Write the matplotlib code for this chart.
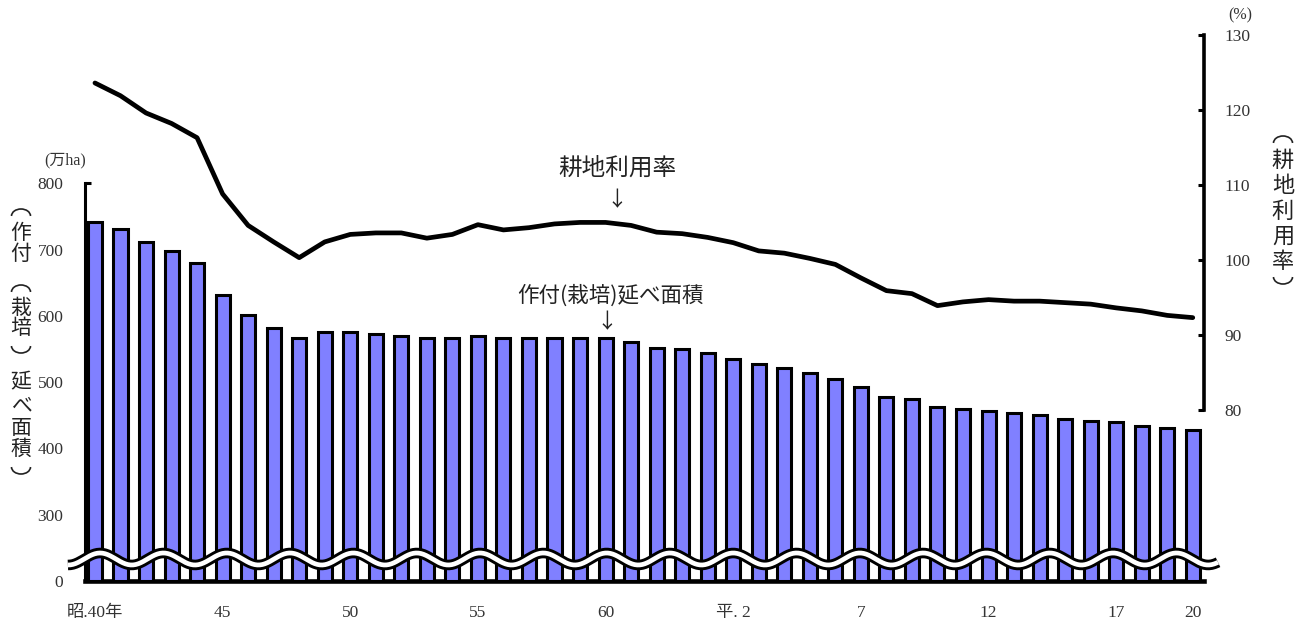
import numpy as np
import matplotlib
matplotlib.use("Agg")
import matplotlib.pyplot as plt
from matplotlib.patches import Arc

plt.rcParams["font.family"] = ["Liberation Serif", "Noto Sans CJK JP"]
JP = ["Noto Sans CJK JP", "DejaVu Sans"]

# --- data ---------------------------------------------------------------
year_idx = np.arange(44)  # 昭和40年(1965) .. 平成20年(2008)
# 作付(栽培)延べ面積 (万ha)
area = [742, 731, 711, 697, 680, 632, 601, 581, 567, 575,
        575, 573, 570, 567, 567, 570, 567, 567, 567, 567,
        567, 560, 552, 550, 544, 535, 527, 521, 513, 505,
        493, 478, 474, 462, 459, 457, 454, 451, 445, 442,
        440, 434, 431, 428]
# 耕地利用率 (%)
rate = [123.6, 121.9, 119.6, 118.2, 116.3, 108.8, 104.6, 102.4, 100.3, 102.4,
        103.4, 103.6, 103.6, 102.9, 103.4, 104.7, 104.0, 104.3, 104.8, 105.0,
        105.0, 104.6, 103.7, 103.5, 103.0, 102.3, 101.2, 100.9, 100.2, 99.4,
        97.6, 95.9, 95.5, 93.9, 94.4, 94.7, 94.5, 94.5, 94.3, 94.1,
        93.6, 93.2, 92.6, 92.3]
xtick_pos = [0, 5, 10, 15, 20, 25, 30, 35, 40, 43]
xtick_lab = ["昭.40年", "45", "50", "55", "60", "平. 2", "7", "12", "17", "20"]
left_ticks = [0, 300, 400, 500, 600, 700, 800]
right_ticks = [80, 90, 100, 110, 120, 130]

# broken axis: everything below 300 is squeezed so that 0 sits where 200 would
SHIFT = 200

W, H = 1311, 624
fig = plt.figure(figsize=(W / 100, H / 100), dpi=100)


def fpos(px, py):
    return px / W, 1 - py / H


ax = fig.add_axes([85 / W, (H - 581) / H, (1204 - 85) / W, (581 - 35) / H])

ax.bar(year_idx, np.array(area) - SHIFT, width=0.55, color="#8080FF",
       edgecolor="black", linewidth=2.2, zorder=3)
ax.set_xlim(-0.39, 43.44)
ax.set_ylim(0, (581 - 35) / 0.663)

tick_y = [0] + [v - SHIFT for v in left_ticks[1:]]
ax.set_yticks(tick_y)
ax.set_yticklabels([str(v) for v in left_ticks])
ax.set_xticks(xtick_pos)
ax.set_xticklabels(xtick_lab)
ax.tick_params(axis="y", direction="in", length=4, width=2.2, pad=15.5,
               labelsize=12.5, labelcolor="#333", color="black")
ax.tick_params(axis="x", length=0, pad=17, labelsize=12.5, labelcolor="#333")
for s in ("top", "right"):
    ax.spines[s].set_visible(False)
ax.spines["left"].set_bounds(0, 800 - SHIFT)
ax.spines["left"].set_linewidth(2.2)
ax.spines["bottom"].set_linewidth(3.3)

# wavy break mark across the lower part of the bars
u = np.linspace(-1.06, 43.99, 900)
wave = 33.2 + 9.05 * np.cos(2 * np.pi * (u - 0.2) / 2.48)
ax.plot(u, wave, color="black", lw=7.6, clip_on=False, zorder=10,
        solid_capstyle="butt")
ax.plot(u, wave, color="white", lw=3.4, clip_on=False, zorder=11,
        solid_capstyle="butt")

# --- right axis: 耕地利用率 -------------------------------------------------
ax2 = ax.twinx()
ax2.plot(year_idx, rate, color="black", lw=3.4, zorder=5,
         solid_joinstyle="round", solid_capstyle="round")
ax2.set_ylim(80 - (581 - 410) / 7.49, 130)
ax2.set_yticks(right_ticks)
ax2.tick_params(axis="y", direction="in", length=4, width=2.2, pad=15,
                labelsize=12.5, labelcolor="#333")
for s in ("top", "left", "bottom"):
    ax2.spines[s].set_visible(False)
ax2.spines["right"].set_bounds(80, 130)
ax2.spines["right"].set_linewidth(2.6)

# --- texts ----------------------------------------------------------------
fig.text(*fpos(617, 168), "耕地利用率", ha="center", va="center",
         fontsize=17, family=JP, color="#222")
fig.text(*fpos(617, 200), "↓", ha="center", va="center",
         fontsize=15, family=JP, color="#222")
fig.text(*fpos(610, 296), "作付(栽培)延べ面積", ha="center", va="center",
         fontsize=15.5, family=JP, color="#222")
fig.text(*fpos(607, 322), "↓", ha="center", va="center",
         fontsize=15, family=JP, color="#222")
fig.text(*fpos(65, 160), "(万ha)", ha="center", va="center",
         fontsize=11.5, color="#333")
fig.text(*fpos(1240, 15), "(%)", ha="center", va="center",
         fontsize=11.5, color="#333")

# vertical axis titles, one character per row; brackets drawn as arcs
left_chars = ["(", "作", "付", "(", "栽", "培", ")", "延", "べ", "面", "積", ")"]
left_ys = [212, 233, 254, 288, 308, 328, 350, 382, 405, 428, 449, 471]
right_chars = ["(", "耕", "地", "利", "用", "率", ")"]
right_ys = [139, 160, 185, 211, 236, 261, 281]


def vertical_label(xp, chars, ys, size):
    for ch, yp in zip(chars, ys):
        if ch == "(":
            fig.add_artist(Arc(fpos(xp, yp + 4), 19 / W, 14 / H, theta1=0,
                               theta2=180, transform=fig.transFigure,
                               color="#222", lw=1.2))
        elif ch == ")":
            fig.add_artist(Arc(fpos(xp, yp - 4), 19 / W, 14 / H, theta1=180,
                               theta2=360, transform=fig.transFigure,
                               color="#222", lw=1.2))
        else:
            fig.text(*fpos(xp, yp), ch, ha="center", va="center",
                     fontsize=size, family=JP, color="#222")


vertical_label(21, left_chars, left_ys, 15)
vertical_label(1283, right_chars, right_ys, 16)

fig.savefig("out.png", dpi=100)
plt.close(fig)
